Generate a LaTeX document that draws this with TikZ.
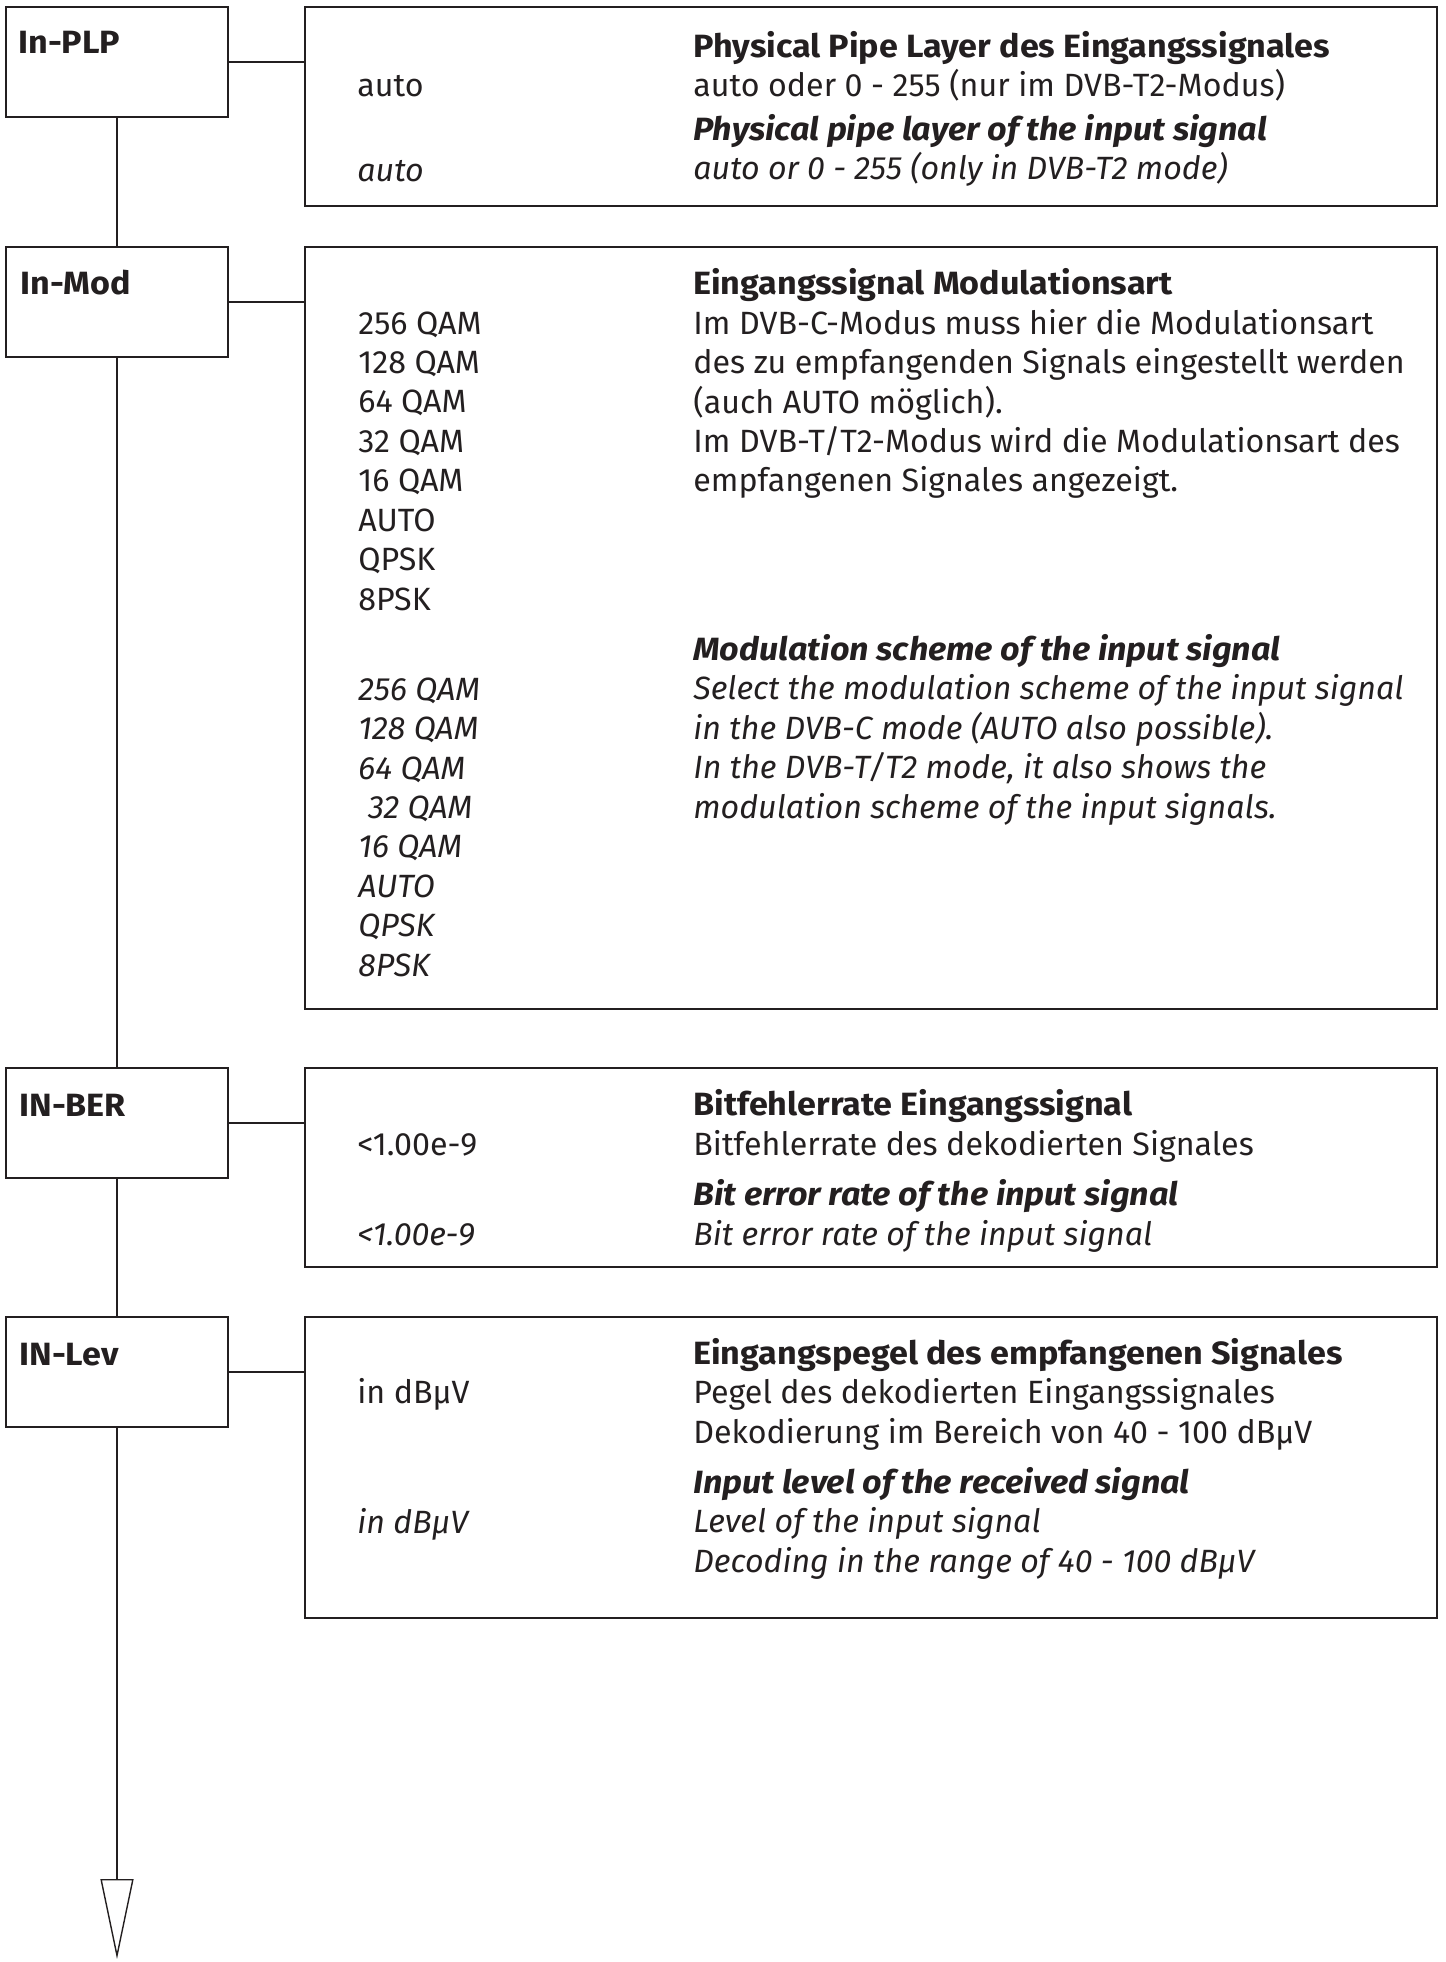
\documentclass[tikz,border=0pt]{standalone}
\usepackage{fontspec}
\setmainfont{Fira Sans}[
    BoldFeatures={FakeStretch=1.06},
    BoldItalicFeatures={FakeStretch=1.06}
]
\usetikzlibrary{
    arrows.meta,
    calc
}
\definecolor{ink}{RGB}{35,31,32}

\begin{document}
\begin{tikzpicture}[
    x=0.5pt,
    y=-0.5pt,
    every node/.style={
        font=\fontsize{16.1pt}{19.7pt}\selectfont,
        text=ink
    },
    menubox/.style={
        rectangle,
        draw=ink,
        line width=0.7pt,
        minimum width=111pt,
        minimum height=55pt,
        inner sep=0pt
    },
    infobox/.style={
        menubox,
        minimum width=566pt
    },
    menulabel/.style={
        anchor=base west,
        inner sep=0pt,
        font=\fontsize{16.1pt}{19.7pt}\selectfont\bfseries
    },
    % multi-line nodes: base = last line
    german/.style={
        anchor=base west,
        inner sep=0pt,
        align=left
    },
    english/.style={
        german,
        font=\fontsize{16.1pt}{19.7pt}\selectfont\itshape
    },
    link/.style={
        draw=ink,
        line width=0.7pt
    }
]

\useasboundingbox (0,0) rectangle (1445,1962);

% ===========================================================
% Menu boxes (left) and description boxes (right)
% ===========================================================

\node[menubox] (plp) at (117,62) {};
\node[menubox] (mod) at (117,302) {};
\node[menubox] (ber) at (117,1123) {};
\node[menubox] (lev) at (117,1372) {};

\node[infobox, minimum height=99.5pt] (plpinfo) at (871,106.5) {};
\node[infobox, minimum height=381pt] (modinfo) at (871,628) {};
\node[infobox, minimum height=99.5pt] (berinfo) at (871,1167.5) {};
\node[infobox, minimum height=150.5pt] (levinfo) at (871,1467.5) {};

% Menu labels
\node[menulabel] (plplab) at (18,54) {In-PLP};
\node[menulabel] (modlab) at (20,295) {In-Mod};
\node[menulabel] (berlab) at (19,1116) {IN-BER};
\node[menulabel] (levlab) at (19,1365) {IN-Lev};

% Menu chain
\draw[link] (plp.south) -- (mod.north);
\draw[link] (mod.south) -- (ber.north);
\draw[link] (ber.south) -- (lev.north);

\coordinate (tip) at (117,1959);
\draw[link, -{Triangle[open,length=40pt,width=16.5pt]}]
    (lev.south) -- (tip);

% Menu to description
\draw[link] (plp.east) -- (plp.east -| plpinfo.west);
\draw[link] (mod.east) -- (mod.east -| modinfo.west);
\draw[link] (ber.east) -- (ber.east -| berinfo.west);
\draw[link] (lev.east) -- (lev.east -| levinfo.west);

% ===========================================================
% In-PLP
% ===========================================================

\node[german] (plpval) at (357,97) {auto};
\node[english] (plpvalen) at (357,182) {auto};

\node[german] (plpde) at (693,97)
    {{\bfseries Physical Pipe Layer des Eingangssignales}\\
     auto oder 0 - 255 (nur im DVB-T2-Modus)};

\node[english] (plpen) at (693,180)
    {{\bfseries Physical pipe layer of the input signal}\\
     auto or 0 - 255 (only in DVB-T2 mode)};

% ===========================================================
% In-Mod
% ===========================================================

\node[german] (modval) at (358,610)
    {256 QAM\\128 QAM\\64 QAM\\32 QAM\\16 QAM\\AUTO\\QPSK\\8PSK};

\node[german] (modde) at (693,492)
    {{\bfseries Eingangssignal Modulationsart}\\
     Im DVB-C-Modus muss hier die Modulationsart\\
     des zu empfangenden Signals eingestellt werden\\
     (auch AUTO möglich).\\
     Im DVB-T/T2-Modus wird die Modulationsart des\\
     empfangenen Signales angezeigt.};

\node[english] (modvalen) at (358,976)
    {256 QAM\\128 QAM\\64 QAM\\\hspace{0.3em}32 QAM\\16 QAM\\AUTO\\QPSK\\8PSK};

\node[english] (moden) at (693,818)
    {{\bfseries Modulation scheme of the input signal}\\
     Select the modulation scheme of the input signal\\
     in the DVB-C mode (AUTO also possible).\\
     In the DVB-T/T2 mode, it also shows the\\
     modulation scheme of the input signals.};

% ===========================================================
% IN-BER
% ===========================================================

\node[german] (berval) at (357,1155) {<1.00e-9};
\node[english] (bervalen) at (357,1245) {<1.00e-9};

\node[german] (berde) at (693,1155)
    {{\bfseries Bitfehlerrate Eingangssignal}\\
     Bitfehlerrate des dekodierten Signales};

\node[english] (beren) at (693,1245)
    {{\bfseries Bit error rate of the input signal}\\
     Bit error rate of the input signal};

% ===========================================================
% IN-Lev
% ===========================================================

\node[german] (levval) at (357,1403) {in dBµV};
\node[english] (levvalen) at (357,1533) {in dBµV};

\node[german] (levde) at (693,1443)
    {{\bfseries Eingangspegel des empfangenen Signales}\\
     Pegel des dekodierten Eingangssignales\\
     Dekodierung im Bereich von 40 - 100 dBµV};

\node[english] (leven) at (693,1572)
    {{\bfseries Input level of the received signal}\\
     Level of the input signal\\
     Decoding in the range of 40 - 100 dBµV};

\end{tikzpicture}
\end{document}
